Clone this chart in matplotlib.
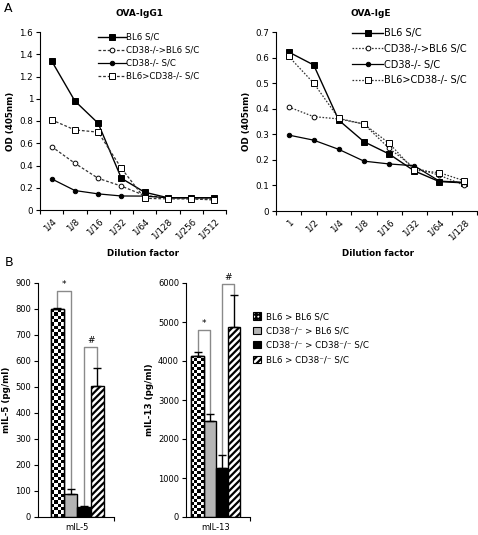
import numpy as np
import matplotlib
matplotlib.use("Agg")
import matplotlib.pyplot as plt
from matplotlib.patches import Patch

# ---- data ----
igg1_dilutions = ["1/4", "1/8", "1/16", "1/32", "1/64", "1/128", "1/256", "1/512"]
igg1_bl6 = [1.34, 0.98, 0.78, 0.285, 0.16, 0.11, 0.11, 0.11]
igg1_cd38_to_bl6 = [0.57, 0.42, 0.285, 0.215, 0.13, 0.11, 0.10, 0.10]
igg1_cd38 = [0.28, 0.175, 0.145, 0.126, 0.125, 0.11, 0.11, 0.11]
igg1_bl6_to_cd38 = [0.81, 0.72, 0.70, 0.375, 0.105, 0.10, 0.10, 0.09]

ige_dilutions = ["1", "1/2", "1/4", "1/8", "1/16", "1/32", "1/64", "1/128"]
ige_bl6 = [0.622, 0.571, 0.355, 0.271, 0.223, 0.157, 0.115, 0.11]
ige_cd38_to_bl6 = [0.407, 0.369, 0.36, 0.34, 0.245, 0.17, 0.14, 0.10]
ige_cd38 = [0.297, 0.277, 0.241, 0.195, 0.184, 0.177, 0.117, 0.112]
ige_bl6_to_cd38 = [0.605, 0.50, 0.362, 0.34, 0.265, 0.16, 0.15, 0.118]

line_labels = ["BL6 S/C", "CD38-/->BL6 S/C", "CD38-/- S/C", "BL6>CD38-/- S/C"]

bar_labels = ["BL6 > BL6 S/C", "CD38\u207b/\u207b > BL6 S/C",
              "CD38\u207b/\u207b > CD38\u207b/\u207b S/C", "BL6 > CD38\u207b/\u207b S/C"]
il5_mean = [800, 88, 37, 504]
il5_err = [3, 20, 5, 70]
il13_mean = [4140, 2460, 1255, 4880]
il13_err = [100, 180, 330, 800]

W, H = 478, 535
fig = plt.figure(figsize=(W / 100, H / 100), dpi=100)
plt.rcParams['hatch.linewidth'] = 1.6


def px_axes(left, top, right, bottom):
    return fig.add_axes([left / W, 1 - bottom / H, (right - left) / W, (bottom - top) / H])


def style_axes(ax):
    for s in ("top", "right"):
        ax.spines[s].set_visible(False)
    for s in ("left", "bottom"):
        ax.spines[s].set_linewidth(0.8)
    ax.tick_params(labelsize=6.3, length=3, width=0.8, pad=2)


def line_panel(ax, cats, series, ylim, yticks, dash, legend_font, legend_anchor, label_spacing):
    x = np.arange(len(cats))
    styles = [
        dict(color="black", ls="-", marker="s", mfc="black", ms=4.2, lw=1.0),
        dict(color="#333333", ls=(0, dash), marker="o", mfc="white", ms=3.4, lw=0.9),
        dict(color="black", ls="-", marker="o", mfc="black", ms=3.2, lw=0.9),
        dict(color="#333333", ls=(0, dash), marker="s", mfc="white", ms=4.4, lw=0.9),
    ]
    for vals, st, lab in zip(series, styles, line_labels):
        ax.plot(x, vals, label=lab, mec="black", mew=0.7, **st)
    style_axes(ax)
    ax.set_xlim(-0.5, len(cats) - 0.5)
    ax.set_ylim(*ylim)
    ax.set_yticks(yticks)
    ax.set_yticklabels([("%g" % v) for v in yticks])
    ax.set_xticks(x)
    ax.set_xticklabels(cats, rotation=45, ha="right", rotation_mode="anchor")
    ax.tick_params(axis="x", length=0, pad=5)
    ax.set_xticks(np.arange(len(cats) + 1) - 0.5, minor=True)
    ax.tick_params(axis="x", which="minor", length=3, width=0.8)
    ax.set_ylabel("OD (405nm)", fontsize=6.3, fontweight="bold", labelpad=3)
    ax.legend(loc="upper left", bbox_to_anchor=legend_anchor, bbox_transform=fig.transFigure,
              frameon=False, fontsize=legend_font, handlelength=3.2, handletextpad=0.1,
              labelspacing=label_spacing, borderpad=0, borderaxespad=0)


# ---- panel A ----
ax1 = px_axes(40, 32, 226, 210)
line_panel(ax1, igg1_dilutions, [igg1_bl6, igg1_cd38_to_bl6, igg1_cd38, igg1_bl6_to_cd38],
           (0, 1.6), np.round(np.arange(0, 1.61, 0.2), 1), (2.2, 1.5), 6.2,
           (98 / W, 1 - 33 / H), 0.45)

ax2 = px_axes(276, 32, 477, 211)
line_panel(ax2, ige_dilutions, [ige_bl6, ige_cd38_to_bl6, ige_cd38, ige_bl6_to_cd38],
           (0, 0.7), np.round(np.arange(0, 0.71, 0.1), 1), (1.3, 1.3), 7.0,
           (352 / W, 1 - 28 / H), 0.6)

fig.text(140 / W, 1 - 14 / H, "OVA-IgG1", ha="center", va="center", fontsize=6.5, fontweight="bold")
fig.text(371 / W, 1 - 14 / H, "OVA-IgE", ha="center", va="center", fontsize=6.5, fontweight="bold")
fig.text(143 / W, 1 - 253 / H, "Dilution factor", ha="center", va="center", fontsize=6.3, fontweight="bold")
fig.text(378 / W, 1 - 253 / H, "Dilution factor", ha="center", va="center", fontsize=6.3, fontweight="bold")
fig.text(4 / W, 1 - 8 / H, "A", ha="left", va="center", fontsize=9)
fig.text(5 / W, 1 - 263 / H, "B", ha="left", va="center", fontsize=9)


# ---- panel B ----
def bar_panel(ax, means, errs, ylim, yticks, xlim, name, ylabel, brackets):
    x = np.arange(len(means))
    bars = ax.bar(x, means, width=1.0, edgecolor="black", linewidth=1.0,
                  color=["white", "#b4b4b4", "black", "white"], zorder=2)
    bars[3].set_hatch("/////")
    ax.errorbar(x, means, yerr=[np.zeros(len(errs)), errs], fmt="none", ecolor="black",
                elinewidth=1.0, capsize=3, capthick=1.0, zorder=3)
    style_axes(ax)
    ax.tick_params(labelsize=6.0)
    ax.set_xlim(*xlim)
    ax.set_ylim(*ylim)
    ax.set_yticks(yticks)
    ax.set_xticks([1.5])
    ax.set_xticklabels([name])
    ax.tick_params(axis="x", length=0, pad=4)
    ax.set_xticks([xlim[1]], minor=True)
    ax.tick_params(axis="x", which="minor", length=3, width=0.8)
    ax.set_ylabel(ylabel, fontsize=6.3, fontweight="bold", labelpad=3)

    # checkerboard fill for the first bar
    fig.canvas.draw()
    b = bars[0]
    p0 = ax.transData.transform((b.get_x(), 0))
    p1 = ax.transData.transform((b.get_x() + b.get_width(), b.get_height()))
    ncols = 4
    nrows = max(1, int(round((p1[1] - p0[1]) / ((p1[0] - p0[0]) / ncols))))
    board = np.indices((nrows, ncols)).sum(0) % 2
    im = ax.imshow(board, cmap="gray", extent=(b.get_x(), b.get_x() + b.get_width(), 0, b.get_height()),
                   aspect="auto", interpolation="nearest", zorder=2.1)
    im.set_clip_path(b)
    ax.bar([x[0]], [means[0]], width=1.0, facecolor="none", edgecolor="black", linewidth=1.0, zorder=2.2)
    ax.set_xlim(*xlim)
    ax.set_ylim(*ylim)

    for i, j, ytop, sym in brackets:
        yi = means[i] + errs[i]
        yj = means[j] + errs[j]
        ax.plot([i, i, j, j], [yi, ytop, ytop, yj], color="#8a8a8a", lw=1.0, zorder=1, clip_on=False)
        ax.text((i + j) / 2, ytop + (ylim[1] - ylim[0]) * 0.008, sym, ha="center", va="bottom",
                fontsize=6.5, clip_on=False)


ax3 = px_axes(38, 283, 114, 517)
bar_panel(ax3, il5_mean, il5_err, (0, 900), np.arange(0, 901, 100), (-1.45, 4.25), "mIL-5",
          "mIL-5 (pg/ml)", [(0, 1, 870, "*"), (2, 3, 655, "#")])

ax4 = px_axes(186, 283, 250, 517)
bar_panel(ax4, il13_mean, il13_err, (0, 6000), np.arange(0, 6001, 1000), (-0.95, 4.33), "mIL-13",
          "mIL-13 (pg/ml)", [(0, 1, 4795, "*"), (2, 3, 5974, "#")])

handles = [
    Patch(facecolor="white", edgecolor="black", hatch="++++", lw=0.8),
    Patch(facecolor="#b4b4b4", edgecolor="black", lw=0.8),
    Patch(facecolor="black", edgecolor="black", lw=0.8),
    Patch(facecolor="white", edgecolor="black", hatch="/////", lw=0.8),
]
fig.legend(handles, bar_labels, loc="upper left", bbox_to_anchor=(253 / W, 1 - 312 / H),
           frameon=False, fontsize=6.3, handlelength=0.9, handleheight=0.9, handletextpad=0.6,
           labelspacing=0.62, borderpad=0, borderaxespad=0)

fig.savefig("out.png", dpi=100)
